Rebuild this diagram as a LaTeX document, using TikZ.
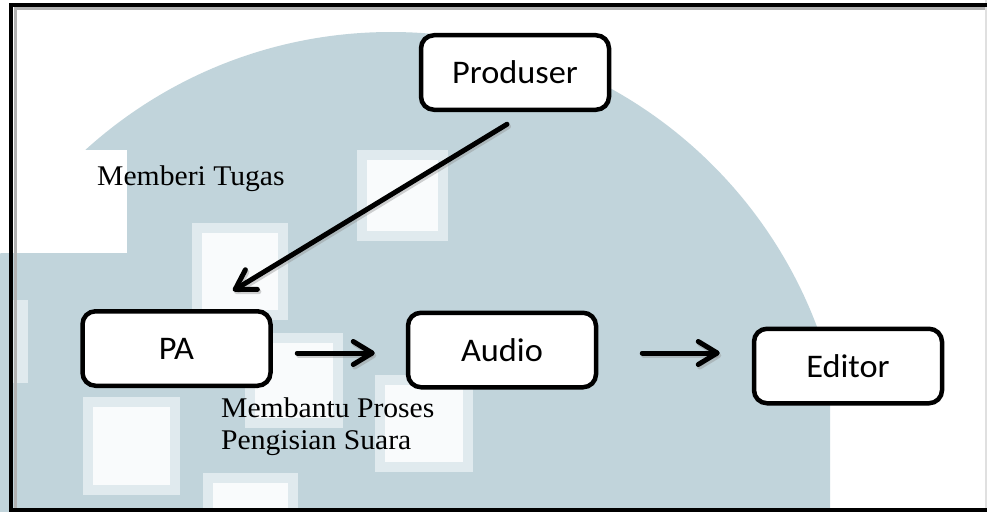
\documentclass[tikz,border=0pt]{standalone}
\usepackage{fontspec}
\setmainfont{Liberation Serif}[FakeStretch=1.04]
\newfontfamily\boxfont{Carlito}[FakeStretch=1.04]
\usetikzlibrary{arrows.meta,calc}
\definecolor{wmgray}{RGB}{193,212,219}
\definecolor{wmedge}{RGB}{224,234,238}
\definecolor{wmwhite}{RGB}{249,251,252}
\begin{document}
\begin{tikzpicture}[x=1pt,y=-1pt,
  procbox/.style={draw=black, line width=4.5pt, rounded corners=13pt, fill=white,
    minimum width=188pt, minimum height=74.5pt, inner sep=0pt,
    font=\boxfont\fontsize{33}{39}\selectfont},
  flow/.style={line width=5pt, line cap=round,
    -{Straight Barb[length=19pt, width=23pt, line cap=round, line join=round]}},
  flowshadow/.style={flow, draw=black!45, opacity=0.4},
  label/.style={inner sep=0pt, font=\fontsize{28.5}{32}\selectfont, align=left},
  wmsquare/.style={fill=wmedge},
  wminner/.style={fill=wmwhite}]
\useasboundingbox (0,0) rectangle (987,511);
\begin{scope}
\clip (0,0) rectangle (987,511);
\fill[white] (0,0) rectangle (987,511);
% watermark
\begin{scope}
\clip (0,0) rectangle (830,511);
\fill[wmgray] (391,487) circle (455pt);
\end{scope}
\fill[white] (0,150) rectangle (127,253);
\foreach \xa/\ya/\xb/\yb in {357/150/448/241, 192/223/288/320, 83/397/180/495,
   203/473/298/520, 245/333/343/428, 375/375/473/472}{
  \fill[wmsquare] (\xa,\ya) rectangle (\xb,\yb);
  \fill[wminner] (\xa+10,\ya+10) rectangle (\xb-10,\yb-10);
}
\fill[wmedge] (13,300) rectangle (28,383);
% frame
\draw[black!30, line width=3pt] (14,9) -- (1000,9);
\draw[black!30, line width=3pt] (15,9) -- (15,509);
\draw[black!12, line width=2pt] (986,0) -- (986,511);
\draw[black, line width=4pt] (1000,5) -- (11,5) -- (11,509.5) -- (1000,509.5);
\end{scope}
% nodes
\node[procbox] (prod) at (515,72.5) {Produser};
\node[procbox] (pa) at (176.5,348.5) {PA};
\node[procbox] (audio) at (502,350) {Audio};
\node[procbox] (editor) at (848,366) {Editor};
% labels
\node[label, anchor=base west] (tugas) at (97,185) {Memberi Tugas};
\node[label, anchor=north west] (bantu) at (221,397.5) {Membantu Proses\\Pengisian Suara};
% connector shadows
\draw[flowshadow] ($(prod.south)+(-6.5,14.5)$) -- ($(pa.north)+(58,-16)$);
\draw[flowshadow] ($(pa.east)+(26,7)$) -- ($(audio.west)+(-29.5,5.5)$);
\draw[flowshadow] ($(audio.east)+(45.5,5.5)$) -- ($(editor.west)+(-30.5,-10.5)$);
% connectors
\draw[flow] ($(prod.south)+(-8,12.25)$) -- ($(pa.north)+(56.5,-18.25)$);
\draw[flow] ($(pa.east)+(24.5,4.5)$) -- ($(audio.west)+(-31,3)$);
\draw[flow] ($(audio.east)+(44,3)$) -- ($(editor.west)+(-32,-13)$);
\end{tikzpicture}
\end{document}
